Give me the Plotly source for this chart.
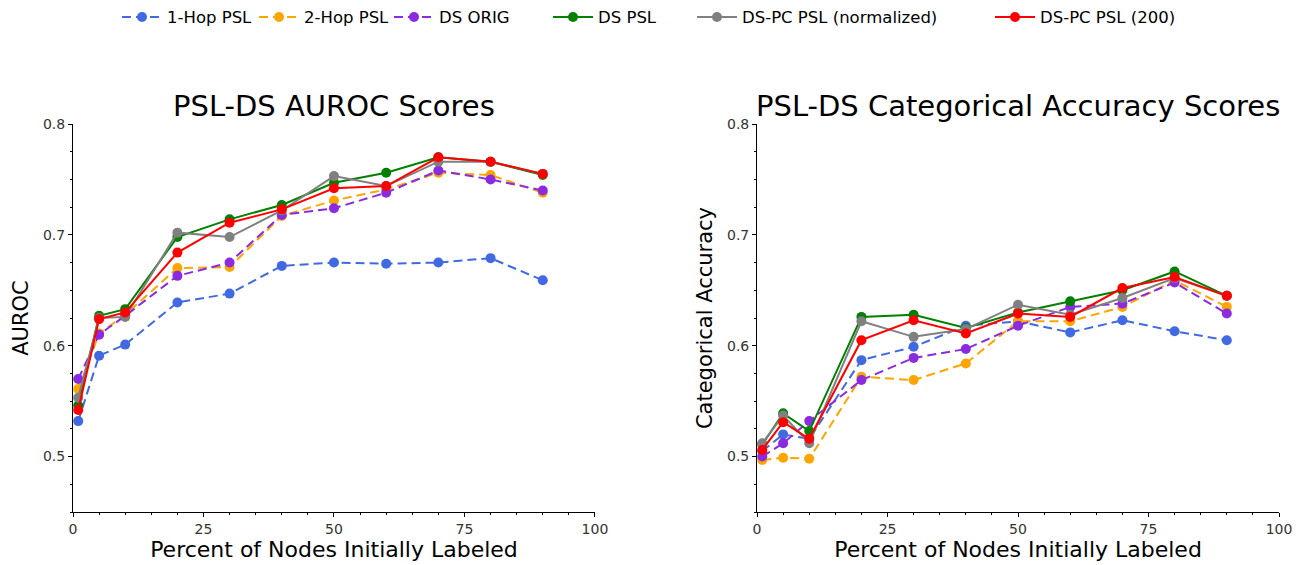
import plotly.graph_objects as go

x_pct = [1, 5, 10, 20, 30, 40, 50, 60, 70, 80, 90]
series_names = ["1-Hop PSL", "2-Hop PSL", "DS ORIG", "DS PSL", "DS-PC PSL (normalized)", "DS-PC PSL (200)"]
colors = ["#4169E1", "#FFA500", "#8A2BE2", "#008000", "#808080", "#FF0000"]
dashed = [True, True, True, False, False, False]
legend_widths = [82, 80, 104, 89, 243, 150]

auroc_1hop = [0.532, 0.591, 0.601, 0.639, 0.647, 0.672, 0.675, 0.674, 0.675, 0.679, 0.659]
auroc_2hop = [0.561, 0.611, 0.628, 0.670, 0.671, 0.717, 0.731, 0.741, 0.756, 0.754, 0.738]
auroc_dsorig = [0.570, 0.610, 0.627, 0.663, 0.675, 0.718, 0.724, 0.738, 0.758, 0.750, 0.740]
auroc_dspsl = [0.546, 0.627, 0.633, 0.698, 0.714, 0.727, 0.747, 0.756, 0.770, 0.766, 0.754]
auroc_dspc_norm = [0.553, 0.625, 0.626, 0.702, 0.698, 0.722, 0.753, 0.744, 0.766, 0.766, 0.755]
auroc_dspc_200 = [0.542, 0.624, 0.630, 0.684, 0.711, 0.723, 0.742, 0.744, 0.770, 0.766, 0.755]

acc_1hop = [0.505, 0.520, 0.516, 0.587, 0.599, 0.618, 0.622, 0.612, 0.623, 0.613, 0.605]
acc_2hop = [0.497, 0.499, 0.498, 0.572, 0.569, 0.584, 0.622, 0.622, 0.635, 0.659, 0.635]
acc_dsorig = [0.500, 0.512, 0.532, 0.569, 0.589, 0.597, 0.618, 0.635, 0.638, 0.657, 0.629]
acc_dspsl = [0.511, 0.539, 0.523, 0.626, 0.628, 0.616, 0.630, 0.640, 0.650, 0.667, 0.645]
acc_dspc_norm = [0.512, 0.537, 0.512, 0.622, 0.608, 0.615, 0.637, 0.628, 0.643, 0.661, 0.645]
acc_dspc_200 = [0.506, 0.531, 0.516, 0.605, 0.623, 0.611, 0.629, 0.626, 0.652, 0.662, 0.645]

auroc = [auroc_1hop, auroc_2hop, auroc_dsorig, auroc_dspsl, auroc_dspc_norm, auroc_dspc_200]
acc = [acc_1hop, acc_2hop, acc_dsorig, acc_dspsl, acc_dspc_norm, acc_dspc_200]

fig = go.Figure()
for i, name in enumerate(series_names):
    line = dict(color=colors[i], width=2, dash="9px,5px" if dashed[i] else "solid")
    fig.add_trace(go.Scatter(x=x_pct, y=auroc[i], mode="lines+markers", name=name,
                             line=line, marker=dict(size=10, color=colors[i]),
                             xaxis="x", yaxis="y", legendgroup=name,
                             legendwidth=legend_widths[i]))
for i, name in enumerate(series_names):
    line = dict(color=colors[i], width=2, dash="9px,5px" if dashed[i] else "solid")
    fig.add_trace(go.Scatter(x=x_pct, y=acc[i], mode="lines+markers", name=name,
                             line=line, marker=dict(size=10, color=colors[i]),
                             xaxis="x2", yaxis="y2", legendgroup=name, showlegend=False))

font_family = "DejaVu Sans"
tickfont = dict(family=font_family, size=14, color="#333333")

def xax(domain, anchor):
    return dict(domain=domain, anchor=anchor, range=[0, 100], tickvals=[0, 25, 50, 75, 100],
                ticks="outside", ticklen=4, tickwidth=1, tickcolor="#000", automargin=False,
                showline=True, linecolor="#000", linewidth=1, showgrid=False, zeroline=False,
                tickfont=tickfont,
                minor=dict(dtick=5, tick0=0, ticks="outside", ticklen=2, tickcolor="#000", showgrid=False),
                title=dict(text="Percent of Nodes Initially Labeled",
                           font=dict(family=font_family, size=22, color="#000"), standoff=3))

def yax(anchor, title):
    return dict(domain=[0, 1], anchor=anchor, range=[0.45, 0.8], tickvals=[0.5, 0.6, 0.7, 0.8],
                ticktext=["0.5", "0.6", "0.7", "0.8"], automargin=False,
                ticks="outside", ticklen=4, tickwidth=1, tickcolor="#000",
                showline=True, linecolor="#000", linewidth=1, showgrid=False, zeroline=False,
                tickfont=tickfont,
                minor=dict(dtick=0.025, tick0=0.45, ticks="outside", ticklen=2, tickcolor="#000", showgrid=False),
                title=dict(text=title, font=dict(family=font_family, size=21, color="#000"), standoff=8))

fig.update_layout(
    width=1295, height=557,
    margin=dict(l=65, r=24, t=116, b=53, autoexpand=False),
    paper_bgcolor="white", plot_bgcolor="white",
    xaxis=xax([0, 0.4328], "y"),
    yaxis=yax("x", "AUROC"),
    xaxis2=xax([0.5672, 1], "y2"),
    yaxis2=yax("x2", "Categorical Accuracy"),
    showlegend=True,
    legend=dict(orientation="h", x=0.0365, xanchor="left", y=1.275, yanchor="middle",
                font=dict(family=font_family, size=16.5, color="#000"),
                itemwidth=40, tracegroupgap=0),
    annotations=[
        dict(text="PSL-DS AUROC Scores", x=0.2164, y=1.0, xref="paper", yref="paper",
             xanchor="center", yanchor="bottom", yshift=-1, showarrow=False,
             font=dict(family=font_family, size=29, color="#000")),
        dict(text="PSL-DS Categorical Accuracy Scores", x=0.7836, y=1.0, xref="paper", yref="paper",
             xanchor="center", yanchor="bottom", yshift=-1, showarrow=False,
             font=dict(family=font_family, size=29, color="#000")),
    ],
)

fig.write_html("out.html")
